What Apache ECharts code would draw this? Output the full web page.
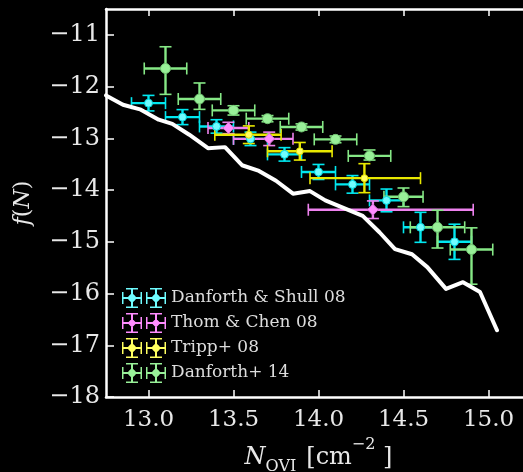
<!DOCTYPE html>
<html><head><meta charset="utf-8">
<script src="https://cdn.jsdelivr.net/npm/echarts@6/dist/echarts.min.js"></script>
<style>html,body{margin:0;padding:0;background:#000;}#c{width:523px;height:472px;}</style>
</head><body><div id="c"></div>
<script>
// ---- tick values ----
const xTicks = [13.0, 13.5, 14.0, 14.5, 15.0];
const yTicks = [-18, -17, -16, -15, -14, -13, -12, -11];

// ---- model curve (white line) ----
const modelX = [12.75, 12.85, 12.95, 13.06, 13.14, 13.24, 13.35, 13.45, 13.55, 13.65, 13.75, 13.85, 13.95, 14.04, 14.26, 14.36, 14.45, 14.55, 14.64, 14.75, 14.85, 14.95, 15.05];
const modelY = [-12.17, -12.35, -12.44, -12.64, -12.72, -12.93, -13.19, -13.17, -13.52, -13.63, -13.82, -14.07, -14.02, -14.2, -14.5, -14.82, -15.14, -15.24, -15.49, -15.91, -15.78, -15.97, -16.71];

// ---- Danforth & Shull 08 ----
const ds08Name = 'Danforth & Shull 08';
const ds08X = [13.0, 13.2, 13.4, 13.6, 13.8, 14.0, 14.2, 14.4, 14.6, 14.8];
const ds08Y = [-12.32, -12.59, -12.77, -13.01, -13.31, -13.65, -13.89, -14.2, -14.72, -15.0];
const ds08XErr = [0.1, 0.1, 0.1, 0.1, 0.1, 0.1, 0.1, 0.1, 0.1, 0.1];
const ds08YErr = [0.15, 0.145, 0.13, 0.13, 0.13, 0.145, 0.17, 0.22, 0.29, 0.34];

// ---- Thom & Chen 08 ----
const tc08Name = 'Thom & Chen 08';
const tc08X = [13.47, 13.71, 14.32];
const tc08Y = [-12.8, -13.01, -14.38];
const tc08XErrLo = [0.12, 0.21, 0.38];
const tc08XErrHi = [0.12, 0.14, 0.59];
const tc08YErr = [0.11, 0.13, 0.17];

// ---- Tripp+ 08 ----
const tr08Name = 'Tripp+ 08';
const tr08X = [13.59, 13.89, 14.27];
const tr08Y = [-12.93, -13.25, -13.77];
const tr08XErrLo = [0.2, 0.19, 0.32];
const tr08XErrHi = [0.19, 0.19, 0.33];
const tr08YErr = [0.17, 0.17, 0.28];

// ---- Danforth+ 14 ----
const d14Name = 'Danforth+ 14';
const d14X = [13.1, 13.3, 13.5, 13.7, 13.9, 14.1, 14.3, 14.5, 14.7, 14.9];
const d14Y = [-11.65, -12.24, -12.46, -12.62, -12.78, -13.02, -13.34, -14.13, -14.72, -15.15];
const d14XErr = [0.125, 0.125, 0.125, 0.125, 0.125, 0.125, 0.125, 0.115, 0.16, 0.125];
const d14YErrLo = [0.5, 0.2, 0.09, 0.06, 0.06, 0.065, 0.08, 0.19, 0.4, 0.67];
const d14YErrHi = [0.42, 0.31, 0.09, 0.06, 0.06, 0.065, 0.115, 0.17, 0.33, 0.42];

// ---- helpers ----
function rows(x, y, xl, xh, yl, yh) {
  return x.map((v, i) => [v, y[i], xl[i], xh[i], yl[i], yh[i]]);
}
function errRender(color) {
  return function (params, api) {
    const x = api.value(0), y = api.value(1);
    const xl = api.value(2), xh = api.value(3), yl = api.value(4), yh = api.value(5);
    const pL = api.coord([x - xl, y]), pR = api.coord([x + xh, y]);
    const pB = api.coord([x, y - yl]), pT = api.coord([x, y + yh]);
    const c = 6;
    const st = { stroke: color, lineWidth: 2.4 };
    const cs = { stroke: color, lineWidth: 1.6 };
    return { type: 'group', children: [
      { type: 'line', shape: { x1: pL[0], y1: pL[1], x2: pR[0], y2: pR[1] }, style: st },
      { type: 'line', shape: { x1: pB[0], y1: pB[1], x2: pT[0], y2: pT[1] }, style: st },
      { type: 'line', shape: { x1: pL[0], y1: pL[1] - c, x2: pL[0], y2: pL[1] + c }, style: cs },
      { type: 'line', shape: { x1: pR[0], y1: pR[1] - c, x2: pR[0], y2: pR[1] + c }, style: cs },
      { type: 'line', shape: { x1: pT[0] - c, y1: pT[1], x2: pT[0] + c, y2: pT[1] }, style: cs },
      { type: 'line', shape: { x1: pB[0] - c, y1: pB[1], x2: pB[0] + c, y2: pB[1] }, style: cs }
    ] };
  };
}
function rect(x, y, w, h) {
  return 'M' + x + ' ' + y + 'L' + (x + w) + ' ' + y + 'L' + (x + w) + ' ' + (y + h) + 'L' + x + ' ' + (y + h) + 'Z';
}
function crossIcon(ox, diamond) {
  let p = rect(ox, 9, 20, 2) + rect(ox + 9, 0, 2, 20) +
    rect(ox, 4, 1.5, 12) + rect(ox + 18.5, 4, 1.5, 12) +
    rect(ox + 4, 0, 12, 1.5) + rect(ox + 4, 18.5, 12, 1.5);
  if (diamond) {
    p += 'M' + (ox + 10) + ' 5.5L' + (ox + 14.5) + ' 10L' + (ox + 10) + ' 14.5L' + (ox + 5.5) + ' 10Z';
  } else {
    p += 'M' + (ox + 8.5) + ' 6.3L' + (ox + 11.5) + ' 6.3L' + (ox + 13.7) + ' 8.5L' + (ox + 13.7) + ' 11.5L' +
      (ox + 11.5) + ' 13.7L' + (ox + 8.5) + ' 13.7L' + (ox + 6.3) + ' 11.5L' + (ox + 6.3) + ' 8.5Z';
  }
  return p;
}
function legendIcon(diamond) { return 'path://' + crossIcon(0, diamond) + crossIcon(24, diamond); }

const fontF = 'DejaVu Serif';
const labelColor = '#e8e8e8';

const series = [];
function addSet(name, data, barColor, markColor, symbol, size, border) {
  series.push({
    type: 'custom', name: name, data: data, encode: { x: 0, y: 1 },
    itemStyle: { color: markColor },
    renderItem: errRender(barColor), z: 2, silent: true
  });
  series.push({
    type: 'scatter', name: name, data: data.map(r => [r[0], r[1]]),
    symbol: symbol, symbolSize: size, z: 3, silent: true,
    itemStyle: { color: markColor, borderColor: border, borderWidth: 1, opacity: 1 }
  });
}
addSet(ds08Name, rows(ds08X, ds08Y, ds08XErr, ds08XErr, ds08YErr, ds08YErr), '#00e8f0', '#70fcff', 'circle', 8, '#00d8e0');
addSet(tc08Name, rows(tc08X, tc08Y, tc08XErrLo, tc08XErrHi, tc08YErr, tc08YErr), '#ee82ee', '#ff8cff', 'diamond', 11, '#d070d0');
addSet(tr08Name, rows(tr08X, tr08Y, tr08XErrLo, tr08XErrHi, tr08YErr, tr08YErr), '#e8e800', '#ffff60', 'circle', 7, '#e0e000');
addSet(d14Name, rows(d14X, d14Y, d14XErr, d14XErr, d14YErrLo, d14YErrHi), '#86e886', '#98f098', 'circle', 10, '#70c070');

series.push({
  type: 'line', name: 'model', data: modelX.map((v, i) => [v, modelY[i]]),
  symbol: 'none', z: 5, silent: true,
  lineStyle: { color: '#ffffff', width: 4, join: 'round', cap: 'round' }
});

const axisLineStyle = { color: '#ffffff', width: 2.5 };
const option = {
  backgroundColor: '#000000',
  animation: false,
  grid: { left: 106, right: -8, top: 9, bottom: 75, containLabel: false, outerBoundsMode: 'none' },
  legend: {
    left: 117, top: 283, orient: 'vertical', itemWidth: 44, itemHeight: 20, itemGap: 5,
    itemStyle: { borderWidth: 0 },
    textStyle: { color: '#dddddd', fontFamily: fontF, fontSize: 17, padding: [0, 0, 0, 0] },
    selectedMode: false,
    data: [
      { name: ds08Name, icon: legendIcon(false) },
      { name: tc08Name, icon: legendIcon(true) },
      { name: tr08Name, icon: legendIcon(false) },
      { name: d14Name, icon: legendIcon(false) }
    ]
  },
  xAxis: [{
    type: 'value', min: 12.75, max: 15.25, position: 'bottom',
    splitLine: { show: false },
    axisLine: { show: true, onZero: false, lineStyle: axisLineStyle },
    axisTick: { show: true, inside: true, length: 7, customValues: xTicks, lineStyle: { color: '#ffffff', width: 1.5 } },
    axisLabel: { show: true, customValues: xTicks, margin: 12, color: labelColor, fontFamily: fontF, fontSize: 23,
      formatter: v => v.toFixed(1) },
    name: '{n|N}{s|OVI}{g| }{b|[cm}{p|−2}{b| ]}',
    nameLocation: 'middle', nameGap: 40,
    nameTextStyle: {
      color: labelColor, fontFamily: fontF,
      rich: {
        n: { fontSize: 24, fontStyle: 'italic', fontFamily: fontF, color: labelColor },
        s: { fontSize: 16, fontFamily: fontF, color: labelColor, padding: [18, 0, 0, 0] },
        g: { fontSize: 24, fontFamily: fontF, color: labelColor, width: 10 },
        b: { fontSize: 24, fontFamily: fontF, color: labelColor },
        p: { fontSize: 16, fontFamily: fontF, color: labelColor, padding: [0, 0, 26, 0] }
      }
    }
  }, {
    type: 'value', min: 12.75, max: 15.25, position: 'top',
    splitLine: { show: false },
    axisLine: { show: true, onZero: false, lineStyle: axisLineStyle },
    axisTick: { show: true, inside: true, length: 7, customValues: xTicks, lineStyle: { color: '#ffffff', width: 1.5 } },
    axisLabel: { show: false }
  }],
  yAxis: [{
    type: 'value', min: -18, max: -10.5, position: 'left',
    splitLine: { show: false },
    axisLine: { show: true, onZero: false, lineStyle: axisLineStyle },
    axisTick: { show: true, inside: true, length: 8, customValues: yTicks, lineStyle: { color: '#ffffff', width: 1.5 } },
    axisLabel: { show: true, customValues: yTicks, margin: 6, color: labelColor, fontFamily: fontF, fontSize: 24,
      formatter: v => String(v).replace('-', '\u2212') },
    name: '{i|f}{r|(}{i|N}{r|)}',
    nameLocation: 'middle', nameGap: 72, nameRotate: 90,
    nameTextStyle: {
      color: labelColor,
      rich: {
        i: { fontSize: 22, fontStyle: 'italic', fontFamily: fontF, color: labelColor },
        r: { fontSize: 22, fontFamily: fontF, color: labelColor }
      }
    }
  }],
  series: series
};
const chart = echarts.init(document.getElementById('c'), null, { renderer: 'canvas' });
chart.setOption(option);
</script>
</body></html>
